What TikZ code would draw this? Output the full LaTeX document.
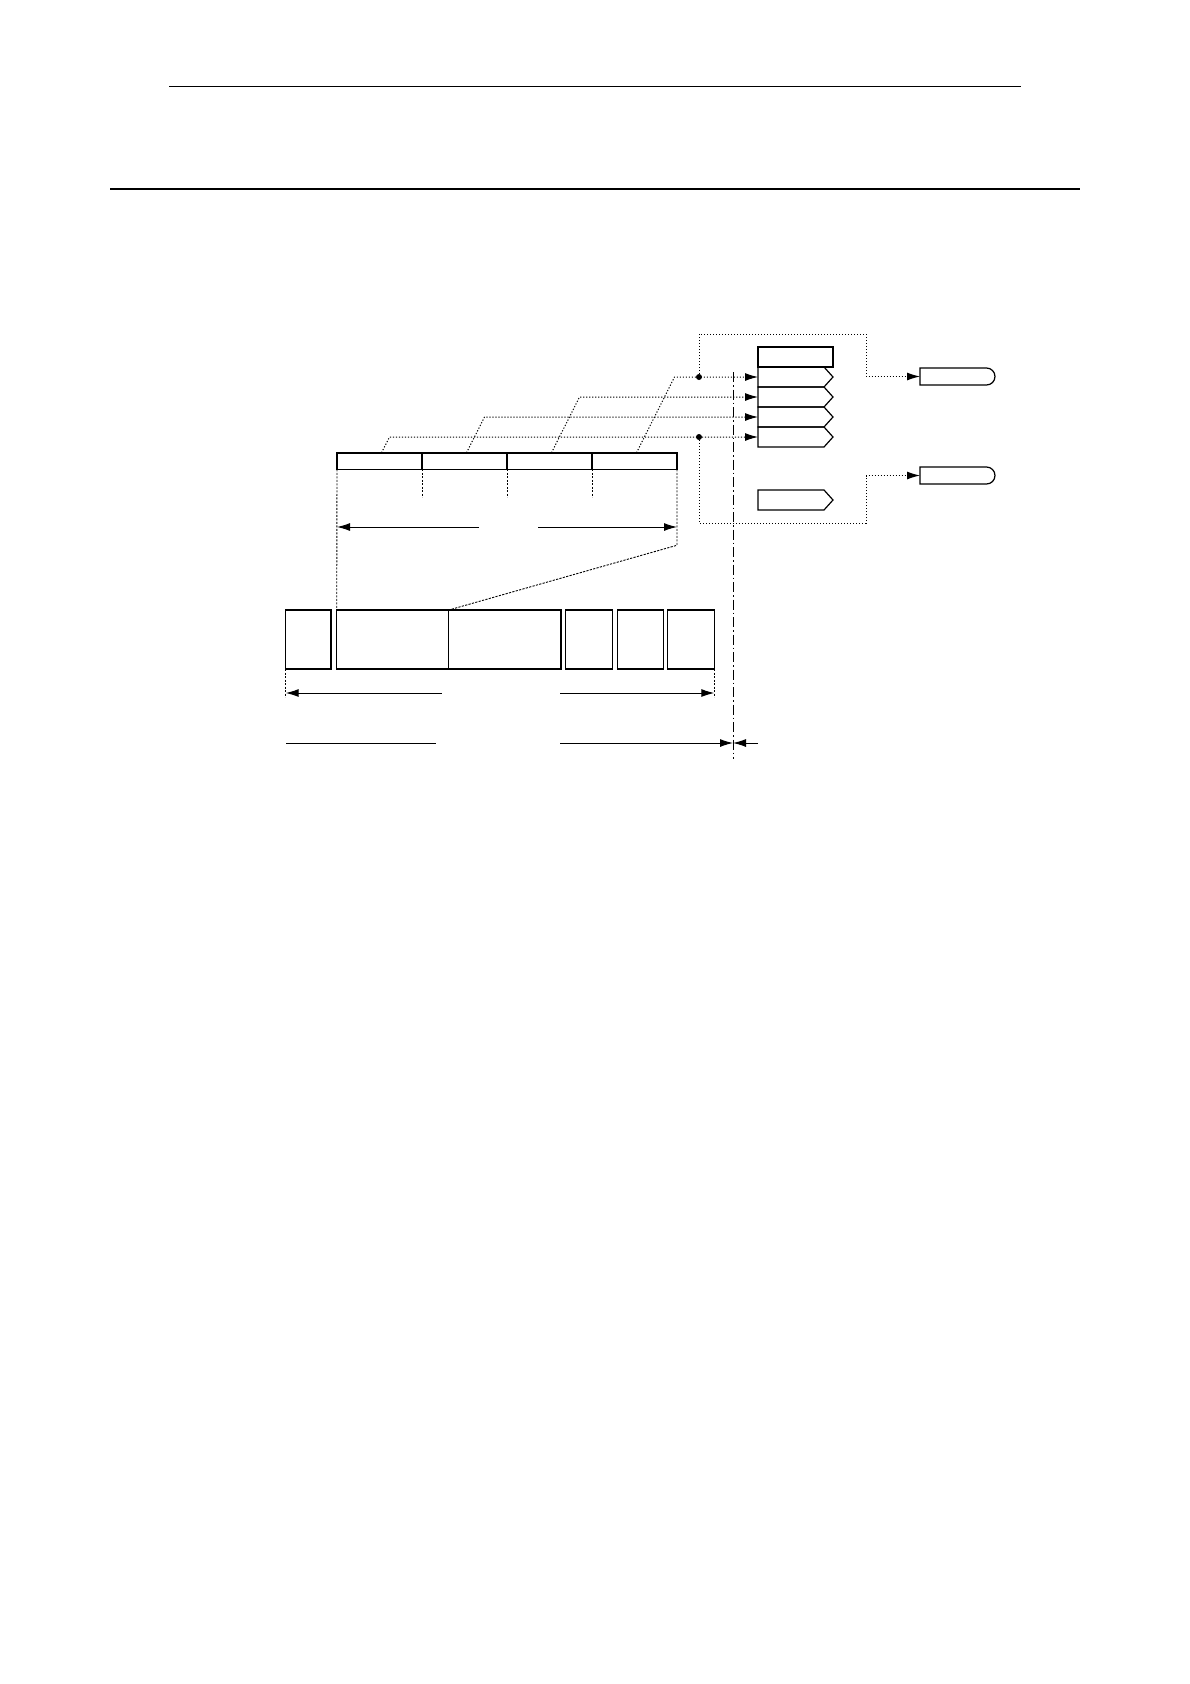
\documentclass[tikz,border=0pt]{standalone}
\usepackage{tikz}
\usetikzlibrary{%
    arrows.meta,%
    calc,%
    positioning,%
    shapes.misc,%
    shapes.symbols%
}

\begin{document}
\begin{tikzpicture}[x=1pt,y=-1pt,
    box/.style={draw,line width=1.5pt,inner sep=0pt,outer sep=0pt},
    field/.style={box,minimum width=85pt,minimum height=16.5pt},
    slot/.style={draw,line width=1.2pt,signal,signal to=east,signal pointer angle=96,minimum width=75pt,minimum height=20pt,inner sep=0pt,outer sep=0pt,anchor=west},
    target/.style={draw,line width=1.2pt,rounded rectangle,rounded rectangle left arc=none,minimum width=75pt,minimum height=17pt,inner sep=0pt,outer sep=0pt},
    link/.style={line width=1pt,dash pattern=on 1.2pt off 1.8pt},
    guide/.style={line width=0.9pt,dash pattern=on 2.2pt off 1.3pt},
    measure/.style={line width=1pt},
    tip/.style={-{Latex[length=13pt,width=8pt]}},
    axis line/.style={line width=1pt,dash pattern=on 10pt off 3pt on 1.5pt off 3pt}
]
    \useasboundingbox (0,0) rectangle (1190,1684);

    % Page rules
    \coordinate (rule1a) at (169,86);
    \coordinate (rule1b) at (1021,86);
    \draw[line width=1pt] (rule1a) -- (rule1b);
    \coordinate (rule2a) at (110,189);
    \coordinate (rule2b) at (1080,189);
    \draw[line width=2pt] (rule2a) -- (rule2b);

    % Width of one field of the upper bar
    \pgfmathsetmacro{\fw}{85};

    % Four fields of the upper bar
    \foreach \i in {1,...,4}%
    {%
        \node[field] (c\i) at ({337+\fw*(\i-0.5)},461) {};
    }

    % Stack of slots with its header
    \node[box,line width=2pt,minimum width=75pt,minimum height=20pt] (top) at (795.5,357) {};
    \foreach \j in {1,...,4}%
    {%
        \node[slot] (r\j) at (758,{357+20*\j}) {};
    }
    \node[slot] (spare) at (758,500) {};

    % Targets on the right
    \node[target] (o1) at (957.5,376.5) {};
    \node[target] (o2) at (957.5,475.5) {};

    % Lower row of boxes, the wide one is split in two halves
    \node[box,minimum width=224.3pt,minimum height=59pt] (B2) at (448.85,639.5) {};
    \foreach \n/\x/\w in {B1/308.35/45.3, B3/589/46.6, B4/640.3/46, B5/691/46.6}%
    {%
        \node[box,minimum width=\w pt,minimum height=59pt] (\n) at (\x,639.5) {};
    }
    \draw[line width=0.8pt] (B2.north) -- (B2.south);

    % Fields to slots
    \foreach \i/\j/\dx in {1/4/8, 2/3/18, 3/2/28, 4/1/38}%
    {%
        \coordinate (s\i) at ($(c\i.north)+(2,0)$);
        \coordinate (k\i) at ($(s\i)+(\dx,0)$);
        \draw[link,tip] (s\i) -- (k\i |- r\j.west) -- (r\j.west);
    }

    % Branches to the targets
    \coordinate (d1) at ($(r1.west)+(-59,0)$);
    \coordinate (d2) at ($(r4.west)+(-59,0)$);
    \fill (d1) circle (3pt);
    \fill (d2) circle (3pt);
    \coordinate (e1) at (866,334);
    \coordinate (e2) at (866,523);
    \draw[link,tip] (d1) |- (e1) |- (o1.west);
    \draw[link,tip] (d2) |- (e2) |- (o2.west);

    % Centre line
    \coordinate (ax1) at (733,372);
    \coordinate (ax2) at (733,759);
    \draw[axis line] (ax1) -- (ax2);

    % Extension lines
    \draw[guide] (c1.south west) -- (B2.north west);
    \coordinate (bend) at ($(c4.south east)+(0,76)$);
    \draw[guide] (c4.south east) -- (bend) -- (B2.north);
    \foreach \i in {1,2,3}%
    {%
        \draw[guide] (c\i.south east) -- ++(0,28);
    }
    \draw[guide] (B1.south west) -- ++(0,28);
    \draw[guide] (B5.south east) -- ++(0,28);

    % Dimension arrows under the bar
    \coordinate (m1) at (479,527);
    \coordinate (m2) at (538,527);
    \draw[measure,tip] (m1) -- (m1 -| c1.west);
    \draw[measure,tip] (m2) -- (m2 -| c4.east);

    % Dimension arrows under the lower row
    \coordinate (n1) at (441.7,693);
    \coordinate (n2) at (560,693);
    \draw[measure,tip] (n1) -- (n1 -| B1.west);
    \draw[measure,tip] (n2) -- (n2 -| B5.east);
    \coordinate (q1) at (435.7,743);
    \coordinate (q2) at (560,743);
    \coordinate (q3) at (758,743);
    \draw[measure] (q1) -- (q1 -| B1.west);
    \draw[measure,tip] (q2) -- (q2 -| ax1);
    \draw[measure,tip] (q3) -- (q3 -| ax1);
\end{tikzpicture}
\end{document}
